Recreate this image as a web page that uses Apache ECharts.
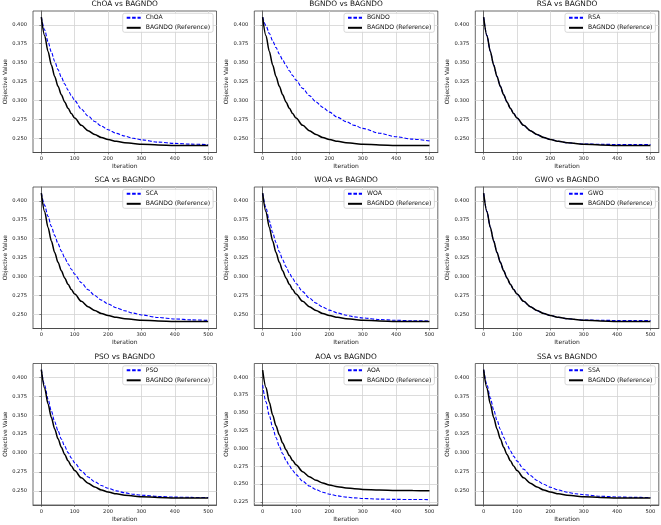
<!DOCTYPE html>
<html>
<head>
<meta charset="utf-8">
<script src="https://cdn.jsdelivr.net/npm/echarts@6/dist/echarts.min.js"></script>
<style>
html, body { margin: 0; padding: 0; background: #fff; }
#main { width: 661px; height: 525px; }
</style>
</head>
<body>
<div id="main"></div>
<script>
// iteration points
const iterations = [0, 10, 20, 30, 40, 50, 60, 70, 80, 90, 100, 120, 140, 160, 180, 200, 225, 250, 275, 300, 350, 400, 450, 500];

// BAGNDO (Reference), same black curve in every panel
const reference = [0.410, 0.3857, 0.3649, 0.3471, 0.3319, 0.3189, 0.3077, 0.2981, 0.2899, 0.2829, 0.2769, 0.2673, 0.2603, 0.2551, 0.2514, 0.2486, 0.2462, 0.2445, 0.2433, 0.2424, 0.2414, 0.2409, 0.2407, 0.2406];

const choa  = [0.410, 0.3931, 0.3779, 0.3642, 0.3519, 0.3408, 0.3309, 0.3219, 0.3138, 0.3065, 0.3000, 0.2888, 0.2797, 0.2724, 0.2664, 0.2616, 0.2568, 0.2532, 0.2503, 0.2482, 0.2452, 0.2435, 0.2425, 0.2419];
const bgndo = [0.410, 0.3989, 0.3886, 0.3790, 0.3700, 0.3615, 0.3537, 0.3463, 0.3394, 0.3330, 0.3270, 0.3161, 0.3066, 0.2983, 0.2911, 0.2848, 0.2779, 0.2722, 0.2673, 0.2633, 0.2569, 0.2523, 0.2491, 0.2468];
const rsa   = [0.410, 0.3857, 0.3649, 0.3471, 0.3319, 0.3189, 0.3077, 0.2981, 0.2899, 0.2829, 0.2769, 0.2673, 0.2603, 0.2551, 0.2514, 0.2486, 0.2462, 0.2445, 0.2434, 0.2427, 0.2423, 0.2421, 0.2420, 0.2420];
const sca   = [0.410, 0.3939, 0.3794, 0.3662, 0.3543, 0.3435, 0.3337, 0.3249, 0.3169, 0.3097, 0.3032, 0.2919, 0.2827, 0.2751, 0.2689, 0.2639, 0.2588, 0.2549, 0.2518, 0.2494, 0.2461, 0.2441, 0.2429, 0.2421];
const woa   = [0.410, 0.3906, 0.3734, 0.3582, 0.3448, 0.3328, 0.3223, 0.3130, 0.3047, 0.2974, 0.2909, 0.2801, 0.2716, 0.2650, 0.2598, 0.2557, 0.2519, 0.2490, 0.2469, 0.2454, 0.2434, 0.2423, 0.2417, 0.2414];
const gwo   = [0.410, 0.3857, 0.3649, 0.3471, 0.3319, 0.3189, 0.3077, 0.2981, 0.2899, 0.2829, 0.2769, 0.2673, 0.2603, 0.2551, 0.2514, 0.2486, 0.2462, 0.2445, 0.2434, 0.2427, 0.2423, 0.2421, 0.2420, 0.2420];
const pso   = [0.410, 0.3894, 0.3713, 0.3555, 0.3415, 0.3293, 0.3185, 0.3091, 0.3008, 0.2935, 0.2871, 0.2766, 0.2684, 0.2622, 0.2573, 0.2536, 0.2501, 0.2476, 0.2457, 0.2444, 0.2428, 0.2419, 0.2415, 0.2413];
const aoa   = [0.389, 0.3655, 0.3462, 0.3296, 0.3153, 0.3030, 0.2925, 0.2834, 0.2756, 0.2689, 0.2632, 0.2540, 0.2472, 0.2422, 0.2385, 0.2357, 0.2333, 0.2316, 0.2305, 0.2297, 0.2288, 0.2284, 0.2282, 0.2281];
const ssa   = [0.410, 0.3901, 0.3726, 0.3572, 0.3435, 0.3315, 0.3208, 0.3115, 0.3032, 0.2959, 0.2894, 0.2787, 0.2704, 0.2639, 0.2588, 0.2549, 0.2512, 0.2484, 0.2464, 0.2450, 0.2431, 0.2421, 0.2416, 0.2413];

const names = ['ChOA', 'BGNDO', 'RSA', 'SCA', 'WOA', 'GWO', 'PSO', 'AOA', 'SSA'];
const curves = [choa, bgndo, rsa, sca, woa, gwo, pso, aoa, ssa];

const xTicks = [0, 100, 200, 300, 400, 500];
const yTicks = [0.250, 0.275, 0.300, 0.325, 0.350, 0.375, 0.400];
const yTicksAOA = [0.225, 0.250, 0.275, 0.300, 0.325, 0.350, 0.375, 0.400];

const refName = 'BAGNDO (Reference)';
const font = 'DejaVu Sans';
const W = 661;
const colLeft = [33, 254.3, 475.3];
const rowTop = [11, 187, 363.5];
const plotW = 183.5, plotH = 141.5;

function pairs(ys) {
  return iterations.map((x, i) => [x, ys[i]]);
}

const option = {
  animation: false,
  backgroundColor: '#fff',
  title: [], grid: [], xAxis: [], yAxis: [], legend: [], series: []
};

names.forEach((name, k) => {
  const r = Math.floor(k / 3), c = k % 3;
  const left = colLeft[c], top = rowTop[r];
  const isAOA = name === 'AOA';

  option.title.push({
    text: name + ' vs BAGNDO',
    left: left + plotW / 2,
    top: top - 10,
    textAlign: 'center',
    padding: 0,
    textStyle: { fontFamily: font, fontSize: 7.4, fontWeight: 'normal', color: '#111' }
  });

  option.grid.push({
    left: left, top: top, width: plotW, height: plotH,
    show: true, borderColor: '#444', borderWidth: 0.8,
    outerBoundsMode: 'none'
  });

  option.xAxis.push({
    type: 'value', gridIndex: k, min: -25, max: 525,
    name: 'Iteration', nameLocation: 'middle', nameGap: 11,
    nameTextStyle: { fontFamily: font, fontSize: 6, color: '#222' },
    axisLine: { show: true, onZero: false, lineStyle: { color: '#444', width: 0.8 } },
    axisTick: { show: true, length: 2, customValues: xTicks, lineStyle: { color: '#444', width: 0.6 } },
    axisLabel: { fontFamily: font, fontSize: 5.2, color: '#222', margin: 4, customValues: xTicks },
    splitLine: { show: true, lineStyle: { color: '#d3d3d3', width: 0.8 } }
  });

  const ticks = isAOA ? yTicksAOA : yTicks;
  option.yAxis.push({
    type: 'value', gridIndex: k,
    min: isAOA ? 0.2205 : 0.2315,
    max: isAOA ? 0.4193 : 0.4182,
    name: 'Objective Value', nameLocation: 'middle', nameGap: 25,
    nameTextStyle: { fontFamily: font, fontSize: 5.8, color: '#222' },
    axisLine: { show: true, lineStyle: { color: '#444', width: 0.8 } },
    axisTick: { show: true, length: 2, customValues: ticks, lineStyle: { color: '#444', width: 0.6 } },
    axisLabel: { fontFamily: font, fontSize: 5.2, color: '#222', margin: 6, customValues: ticks,
      formatter: v => v.toFixed(3) },
    splitLine: { show: true, lineStyle: { color: '#d3d3d3', width: 0.8 } }
  });

  option.legend.push({
    data: [name, refName],
    orient: 'vertical',
    right: W - (left + plotW) + 3.4,
    top: top + 2.3,
    itemWidth: 14, itemHeight: 7, itemGap: 4,
    padding: [1.5, 3],
    backgroundColor: 'rgba(255,255,255,0.85)',
    borderColor: '#cfcfcf', borderWidth: 0.8, borderRadius: 2,
    itemStyle: { opacity: 0 },
    textStyle: { fontFamily: font, fontSize: 6.1, color: '#111' },
    selectedMode: false
  });

  option.series.push({
    name: name, type: 'line', xAxisIndex: k, yAxisIndex: k,
    data: pairs(curves[k]), showSymbol: false, symbol: 'none',
    smooth: 0.3, smoothMonotone: 'x',
    lineStyle: { color: '#0000ff', width: 1.1, type: [3.6, 1.8] },
    itemStyle: { color: '#0000ff' }
  });
  option.series.push({
    name: refName, type: 'line', xAxisIndex: k, yAxisIndex: k,
    data: pairs(reference), showSymbol: false, symbol: 'none',
    smooth: 0.3, smoothMonotone: 'x',
    lineStyle: { color: '#000', width: 1.5 },
    itemStyle: { color: '#000' }
  });
});

const chart = echarts.init(document.getElementById('main'), null, { renderer: 'canvas' });
chart.setOption(option);
</script>
</body>
</html>
